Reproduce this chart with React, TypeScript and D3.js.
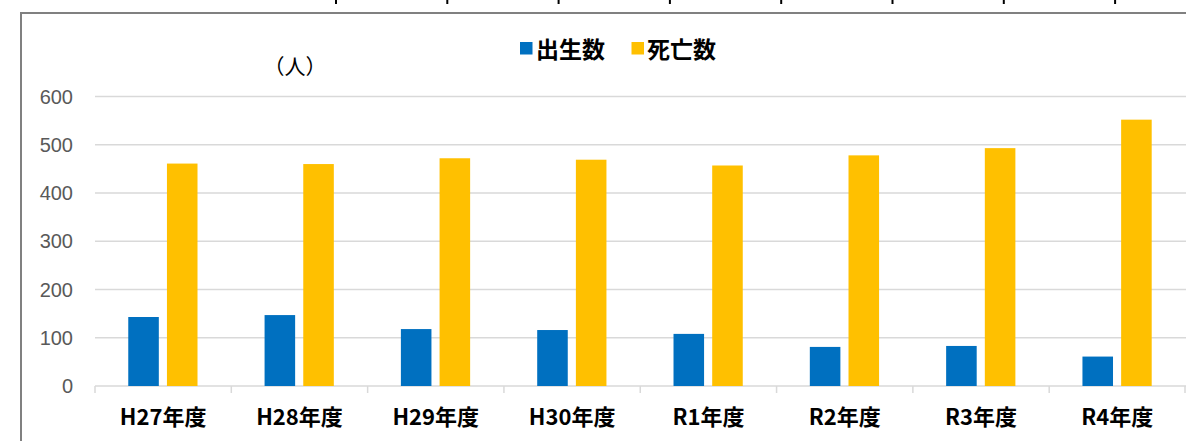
import React from "react";
import * as d3 from "d3";

const categories = ["H27年度", "H28年度", "H29年度", "H30年度", "R1年度", "R2年度", "R3年度", "R4年度"];
const seriesNames = ["出生数", "死亡数"];
const births = [143, 147, 118, 116, 108, 81, 83, 61];
const deaths = [461, 460, 472, 469, 457, 478, 493, 552];
const yTicks = [0, 100, 200, 300, 400, 500, 600];
const unitLabel = "（人）";

const W = 1186;
const H = 441;
const colors = ["#0070C0", "#FFC000"];
const topMarks = d3.range(8).map((i) => 336 + i * 111.3);

export default function App() {
  const x = d3.scaleBand<string>().domain(categories).range([95, 1185.5]).paddingInner(0).paddingOuter(0);
  const bw = x.bandwidth();
  const xs = d3.scaleBand<string>().domain(seriesNames).range([0.244 * bw, 0.752 * bw]).paddingInner(0.21).paddingOuter(0);
  const y = d3.scaleLinear().domain([0, 600]).range([386, 96.5]);
  const series = [births, deaths];
  const font = "'Noto Sans CJK JP', 'Noto Sans', sans-serif";

  return (
    <div style={{ position: "absolute", left: 0, top: 0 }}>
      <svg width={W} height={H} style={{ display: "block", background: "#fff" }}>
        <rect x={0} y={0} width={W} height={H} fill="#fff" />
        {topMarks.map((mx, i) => (
          <line key={"tm" + i} x1={mx} x2={mx} y1={0} y2={4} stroke="#000" strokeWidth={2} />
        ))}
        {/* frame */}
        <line x1={20} x2={W} y1={13} y2={13} stroke="#808080" strokeWidth={2} />
        <line x1={21} x2={21} y1={12} y2={H} stroke="#808080" strokeWidth={2} />

        {/* gridlines */}
        {yTicks.map((t) => (
          <line key={"g" + t} x1={95} x2={W} y1={y(t)} y2={y(t)} stroke="#D9D9D9" strokeWidth={t === 0 ? 1.5 : 1.5} />
        ))}
        {/* category ticks */}
        {categories.map((c) => (
          <line key={"t" + c} x1={x(c)!} x2={x(c)!} y1={386} y2={393} stroke="#D9D9D9" strokeWidth={1.5} />
        ))}
        <line x1={1185} x2={1185} y1={386} y2={393} stroke="#D9D9D9" strokeWidth={1.5} />

        {/* y labels */}
        {yTicks.map((t) => (
          <text key={"yl" + t} x={73} y={y(t) + 7} textAnchor="end" fontFamily="'Liberation Sans', Arial, sans-serif" fontSize={20} fill="#595959">
            {t}
          </text>
        ))}

        {/* bars */}
        {series.map((vals, si) =>
          categories.map((c, ci) => (
            <rect
              key={"b" + si + "-" + ci}
              x={x(c)! + xs(seriesNames[si])!}
              y={y(vals[ci])}
              width={xs.bandwidth()}
              height={y(0) - y(vals[ci])}
              fill={colors[si]}
            />
          ))
        )}

        {/* x labels */}
        {categories.map((c) => (
          <text key={"xl" + c} x={x(c)! + bw / 2} y={425} textAnchor="middle" fontFamily={font} fontWeight="bold" fontSize={22} fill="#000">
            {c}
          </text>
        ))}

        {/* unit */}
        <text x={295} y={74} textAnchor="middle" fontFamily={font} fontSize={21} fill="#000">
          {unitLabel}
        </text>

        {/* legend */}
        <rect x={520} y={42} width={12.5} height={12.5} fill={colors[0]} />
        <text x={536} y={58} fontFamily={font} fontWeight="bold" fontSize={23} fill="#000">
          {seriesNames[0]}
        </text>
        <rect x={631.5} y={42} width={12.5} height={12.5} fill={colors[1]} />
        <text x={647} y={58} fontFamily={font} fontWeight="bold" fontSize={23} fill="#000">
          {seriesNames[1]}
        </text>
      </svg>
    </div>
  );
}
